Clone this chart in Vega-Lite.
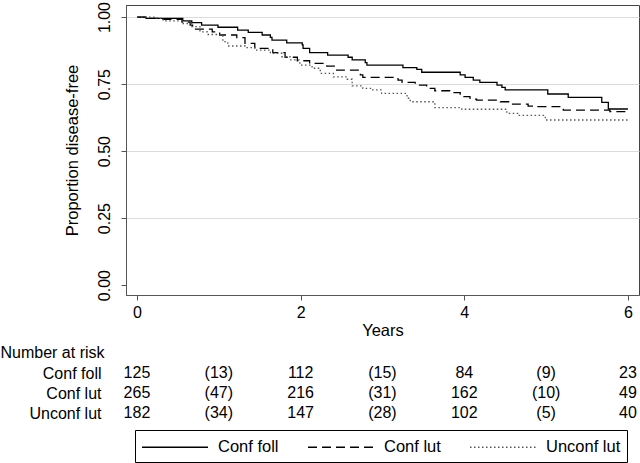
{
  "$schema": "https://vega.github.io/schema/vega-lite/v6.json",
  "padding": {"left": 0, "top": 0, "right": 1, "bottom": 0},
  "background": "white",
  "spacing": 68,
  "bounds": "flush",
  "resolve": {"scale": {"x": "independent", "y": "independent"}},
  "config": {
    "font": "Liberation Sans",
    "view": {"stroke": null},
    "axis": {
      "labelFont": "Liberation Sans",
      "titleFont": "Liberation Sans",
      "labelFontSize": 16,
      "titleFontSize": 16.5,
      "titleFontWeight": "normal",
      "labelColor": "#000",
      "titleColor": "#000",
      "domainColor": "#555",
      "tickColor": "#555",
      "grid": false
    },
    "legend": {
      "orient": "none",
      "legendX": 9,
      "legendY": 425,
      "direction": "horizontal",
      "columns": 3,
      "symbolType": "M-1,0H5.6",
      "symbolSize": 400,
      "symbolStrokeWidth": 1.3,
      "labelFont": "Liberation Sans",
      "labelFontSize": 16.5,
      "labelColor": "#000",
      "labelOffset": 55,
      "columnPadding": 26,
      "padding": 6,
      "strokeColor": "#000"
    }
  },
  "datasets": {
    "km": [
      {"group": "Conf foll", "t": 0, "s": 1},
      {"group": "Conf foll", "t": 0.11, "s": 0.995},
      {"group": "Conf foll", "t": 0.56, "s": 0.986},
      {"group": "Conf foll", "t": 0.67, "s": 0.979},
      {"group": "Conf foll", "t": 0.79, "s": 0.970},
      {"group": "Conf foll", "t": 0.99, "s": 0.962},
      {"group": "Conf foll", "t": 1.23, "s": 0.951},
      {"group": "Conf foll", "t": 1.36, "s": 0.943},
      {"group": "Conf foll", "t": 1.53, "s": 0.933},
      {"group": "Conf foll", "t": 1.63, "s": 0.924},
      {"group": "Conf foll", "t": 1.65, "s": 0.914},
      {"group": "Conf foll", "t": 1.83, "s": 0.904},
      {"group": "Conf foll", "t": 2.02, "s": 0.896},
      {"group": "Conf foll", "t": 2.03, "s": 0.883},
      {"group": "Conf foll", "t": 2.11, "s": 0.867},
      {"group": "Conf foll", "t": 2.33, "s": 0.858},
      {"group": "Conf foll", "t": 2.58, "s": 0.850},
      {"group": "Conf foll", "t": 2.63, "s": 0.840},
      {"group": "Conf foll", "t": 2.79, "s": 0.830},
      {"group": "Conf foll", "t": 2.81, "s": 0.821},
      {"group": "Conf foll", "t": 3.25, "s": 0.811},
      {"group": "Conf foll", "t": 3.42, "s": 0.805},
      {"group": "Conf foll", "t": 3.48, "s": 0.794},
      {"group": "Conf foll", "t": 3.95, "s": 0.784},
      {"group": "Conf foll", "t": 4.01, "s": 0.775},
      {"group": "Conf foll", "t": 4.11, "s": 0.765},
      {"group": "Conf foll", "t": 4.19, "s": 0.756},
      {"group": "Conf foll", "t": 4.40, "s": 0.746},
      {"group": "Conf foll", "t": 4.46, "s": 0.738},
      {"group": "Conf foll", "t": 4.50, "s": 0.728},
      {"group": "Conf foll", "t": 5.02, "s": 0.713},
      {"group": "Conf foll", "t": 5.27, "s": 0.700},
      {"group": "Conf foll", "t": 5.68, "s": 0.682},
      {"group": "Conf foll", "t": 5.76, "s": 0.657},
      {"group": "Conf foll", "t": 6.0, "s": 0.657},
      {"group": "Conf lut", "t": 0, "s": 1},
      {"group": "Conf lut", "t": 0.15, "s": 0.995},
      {"group": "Conf lut", "t": 0.32, "s": 0.991},
      {"group": "Conf lut", "t": 0.55, "s": 0.981},
      {"group": "Conf lut", "t": 0.65, "s": 0.970},
      {"group": "Conf lut", "t": 0.68, "s": 0.955},
      {"group": "Conf lut", "t": 0.92, "s": 0.945},
      {"group": "Conf lut", "t": 1.01, "s": 0.933},
      {"group": "Conf lut", "t": 1.22, "s": 0.923},
      {"group": "Conf lut", "t": 1.32, "s": 0.902},
      {"group": "Conf lut", "t": 1.44, "s": 0.883},
      {"group": "Conf lut", "t": 1.66, "s": 0.867},
      {"group": "Conf lut", "t": 1.81, "s": 0.850},
      {"group": "Conf lut", "t": 1.96, "s": 0.837},
      {"group": "Conf lut", "t": 2.11, "s": 0.827},
      {"group": "Conf lut", "t": 2.32, "s": 0.817},
      {"group": "Conf lut", "t": 2.44, "s": 0.802},
      {"group": "Conf lut", "t": 2.73, "s": 0.784},
      {"group": "Conf lut", "t": 2.76, "s": 0.775},
      {"group": "Conf lut", "t": 3.19, "s": 0.765},
      {"group": "Conf lut", "t": 3.24, "s": 0.756},
      {"group": "Conf lut", "t": 3.40, "s": 0.746},
      {"group": "Conf lut", "t": 3.54, "s": 0.734},
      {"group": "Conf lut", "t": 3.64, "s": 0.725},
      {"group": "Conf lut", "t": 3.85, "s": 0.718},
      {"group": "Conf lut", "t": 3.95, "s": 0.703},
      {"group": "Conf lut", "t": 4.07, "s": 0.694},
      {"group": "Conf lut", "t": 4.15, "s": 0.690},
      {"group": "Conf lut", "t": 4.44, "s": 0.684},
      {"group": "Conf lut", "t": 4.59, "s": 0.675},
      {"group": "Conf lut", "t": 4.78, "s": 0.668},
      {"group": "Conf lut", "t": 4.90, "s": 0.666},
      {"group": "Conf lut", "t": 5.21, "s": 0.653},
      {"group": "Conf lut", "t": 5.78, "s": 0.647},
      {"group": "Conf lut", "t": 6.0, "s": 0.647},
      {"group": "Unconf lut", "t": 0, "s": 1},
      {"group": "Unconf lut", "t": 0.24, "s": 0.995},
      {"group": "Unconf lut", "t": 0.32, "s": 0.986},
      {"group": "Unconf lut", "t": 0.55, "s": 0.976},
      {"group": "Unconf lut", "t": 0.67, "s": 0.964},
      {"group": "Unconf lut", "t": 0.77, "s": 0.945},
      {"group": "Unconf lut", "t": 0.86, "s": 0.935},
      {"group": "Unconf lut", "t": 1.05, "s": 0.908},
      {"group": "Unconf lut", "t": 1.11, "s": 0.892},
      {"group": "Unconf lut", "t": 1.32, "s": 0.886},
      {"group": "Unconf lut", "t": 1.44, "s": 0.877},
      {"group": "Unconf lut", "t": 1.63, "s": 0.865},
      {"group": "Unconf lut", "t": 1.77, "s": 0.852},
      {"group": "Unconf lut", "t": 1.87, "s": 0.840},
      {"group": "Unconf lut", "t": 1.99, "s": 0.821},
      {"group": "Unconf lut", "t": 2.14, "s": 0.809},
      {"group": "Unconf lut", "t": 2.24, "s": 0.790},
      {"group": "Unconf lut", "t": 2.40, "s": 0.777},
      {"group": "Unconf lut", "t": 2.57, "s": 0.768},
      {"group": "Unconf lut", "t": 2.63, "s": 0.743},
      {"group": "Unconf lut", "t": 2.76, "s": 0.734},
      {"group": "Unconf lut", "t": 2.87, "s": 0.728},
      {"group": "Unconf lut", "t": 2.99, "s": 0.715},
      {"group": "Unconf lut", "t": 3.30, "s": 0.697},
      {"group": "Unconf lut", "t": 3.34, "s": 0.684},
      {"group": "Unconf lut", "t": 3.64, "s": 0.662},
      {"group": "Unconf lut", "t": 3.97, "s": 0.656},
      {"group": "Unconf lut", "t": 4.52, "s": 0.641},
      {"group": "Unconf lut", "t": 4.66, "s": 0.633},
      {"group": "Unconf lut", "t": 4.99, "s": 0.616},
      {"group": "Unconf lut", "t": 6.0, "s": 0.616}
    ],
    "risk": [
      {"group": "Conf foll", "t": 0, "n": "125"},
      {"group": "Conf foll", "t": 1, "n": "(13)"},
      {"group": "Conf foll", "t": 2, "n": "112"},
      {"group": "Conf foll", "t": 3, "n": "(15)"},
      {"group": "Conf foll", "t": 4, "n": "84"},
      {"group": "Conf foll", "t": 5, "n": "(9)"},
      {"group": "Conf foll", "t": 6, "n": "23"},
      {"group": "Conf lut", "t": 0, "n": "265"},
      {"group": "Conf lut", "t": 1, "n": "(47)"},
      {"group": "Conf lut", "t": 2, "n": "216"},
      {"group": "Conf lut", "t": 3, "n": "(31)"},
      {"group": "Conf lut", "t": 4, "n": "162"},
      {"group": "Conf lut", "t": 5, "n": "(10)"},
      {"group": "Conf lut", "t": 6, "n": "49"},
      {"group": "Unconf lut", "t": 0, "n": "182"},
      {"group": "Unconf lut", "t": 1, "n": "(34)"},
      {"group": "Unconf lut", "t": 2, "n": "147"},
      {"group": "Unconf lut", "t": 3, "n": "(28)"},
      {"group": "Unconf lut", "t": 4, "n": "102"},
      {"group": "Unconf lut", "t": 5, "n": "(5)"},
      {"group": "Unconf lut", "t": 6, "n": "40"}
    ]
  },
  "vconcat": [
    {
      "width": 513,
      "height": 290,
      "view": {"stroke": "#444"},
      "data": {"name": "km"},
      "mark": {"type": "line", "interpolate": "step-after", "strokeWidth": 1.3},
      "encoding": {
        "x": {
          "field": "t", "type": "quantitative",
          "scale": {"domain": [-0.134, 6.135], "nice": false, "zero": false},
          "axis": {"values": [0, 2, 4, 6], "format": "d", "title": "Years", "tickSize": 5, "labelPadding": 4, "titlePadding": 2}
        },
        "y": {
          "field": "s", "type": "quantitative",
          "scale": {"domain": [-0.037, 1.045], "nice": false, "zero": false},
          "axis": {
            "values": [0, 0.25, 0.5, 0.75, 1], "format": ".2f",
            "title": "Proportion disease-free",
            "labelAngle": -90, "labelAlign": "center", "labelBaseline": "alphabetic",
            "labelPadding": 12, "tickSize": 5, "titlePadding": 16,
            "grid": true,
            "gridColor": {"condition": {"test": "datum.value == 0", "value": "transparent"}, "value": "#dcdcdc"}
          }
        },
        "color": {
          "field": "group", "type": "nominal",
          "scale": {"domain": ["Conf foll", "Conf lut", "Unconf lut"], "range": ["#000000", "#000000", "#555555"]},
          "legend": {"title": null}
        },
        "strokeDash": {
          "field": "group", "type": "nominal",
          "scale": {"domain": ["Conf foll", "Conf lut", "Unconf lut"], "range": [[1, 0], [9, 5], [1.5, 2.5]]},
          "legend": {"title": null}
        }
      }
    },
    {
      "width": 513,
      "height": 60,
      "data": {"name": "risk"},
      "mark": {"type": "text", "fontSize": 16, "font": "Liberation Sans", "color": "#000", "align": "center", "baseline": "middle"},
      "encoding": {
        "x": {
          "field": "t", "type": "quantitative",
          "scale": {"domain": [-0.134, 6.135], "nice": false, "zero": false},
          "axis": null
        },
        "y": {
          "field": "group", "type": "nominal",
          "scale": {"domain": ["Conf foll", "Conf lut", "Unconf lut"], "paddingInner": 0, "paddingOuter": 0},
          "axis": {
            "title": "Number at risk", "titleAngle": 0, "titleAlign": "left", "titleBaseline": "middle",
            "titleX": -126, "titleY": -11, "titleFontSize": 16,
            "domain": false, "ticks": false, "labelPadding": 25, "labelFontSize": 16
          }
        },
        "text": {"field": "n"}
      }
    }
  ]
}
